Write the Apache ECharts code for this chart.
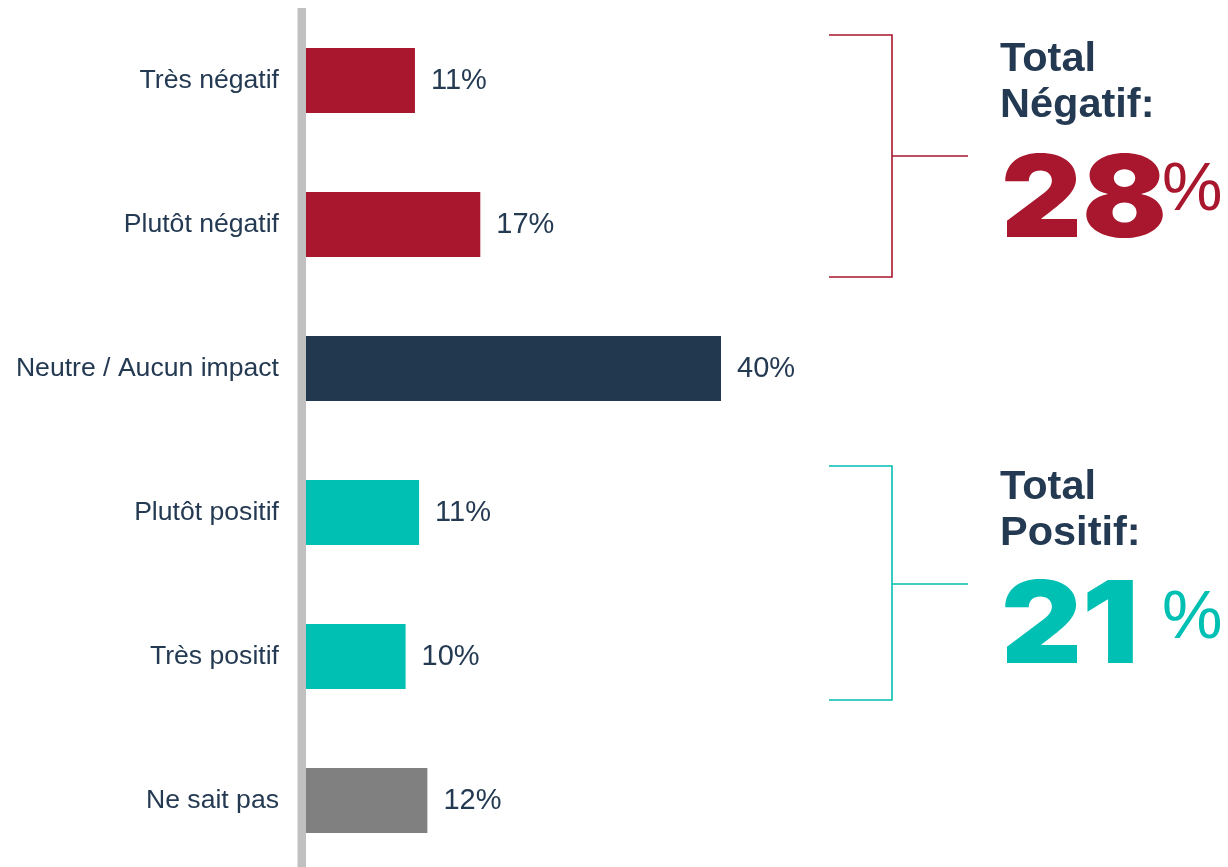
<!DOCTYPE html>
<html>
<head>
<meta charset="utf-8">
<script src="https://cdn.jsdelivr.net/npm/echarts@6/dist/echarts.min.js"></script>
<style>
html,body{margin:0;padding:0;background:#fff;}
#chart{width:1228px;height:867px;}
</style>
</head>
<body>
<div id="chart"></div>
<script>
// ---- data ----
const categories = ['Très négatif', 'Plutôt négatif', 'Neutre / Aucun impact', 'Plutôt positif', 'Très positif', 'Ne sait pas'];
const values = [10.5, 16.8, 40, 10.9, 9.6, 11.7];
const shownPercents = [11, 17, 40, 11, 10, 12];
const totalNegatif = 28;
const totalPositif = 21;

const RED = '#a8172d', NAVY = '#22384e', TEAL = '#00bfb3', GREY = '#808080';
const barColors = [RED, RED, NAVY, TEAL, TEAL, GREY];
const TXT = '#243a52';

const chart = echarts.init(document.getElementById('chart'), null, {renderer: 'canvas'});

function bracket(color, yTop, yBottom, yMid) {
  return [
    {type: 'polyline', shape: {points: [[829, yTop], [892, yTop], [892, yBottom], [829, yBottom]]},
     style: {stroke: color, lineWidth: 1.6, fill: null}},
    {type: 'line', shape: {x1: 892, y1: yMid, x2: 968, y2: yMid}, style: {stroke: color, lineWidth: 1.6}}
  ];
}
function txt(text, x, y, font, fill, sx) {
  return {type: 'text', x: x, y: y, scaleX: sx || 1,
    style: {text: text, x: 0, y: 0, font: font, fill: fill, verticalAlign: 'middle', align: 'left'}};
}
const HEAVY = '900 114px Inter, Roboto, "Liberation Sans", sans-serif';
const BOLD = 'bold 41.5px "Liberation Sans", Arial, sans-serif';
const PCT = 'normal 68px "Liberation Sans", Arial, sans-serif';

const option = {
  animation: false,
  backgroundColor: '#fff',
  grid: {left: 306, top: 8.5, width: 415, height: 864, containLabel: false, outerBoundsMode: 'none'},
  xAxis: {type: 'value', min: 0, max: 40, show: false},
  yAxis: {
    type: 'category', data: categories, inverse: true,
    axisLine: {show: false},
    axisTick: {show: false},
    axisLabel: {margin: 27, color: TXT, fontSize: 26.6, fontFamily: '"Liberation Sans", Arial, sans-serif'},
    splitLine: {show: false}
  },
  series: [{
    type: 'bar',
    barWidth: 65,
    data: values.map((v, i) => ({value: v, itemStyle: {color: barColors[i]}})),
    label: {
      show: true, position: 'right', distance: 16,
      color: TXT, fontSize: 29, fontFamily: '"Liberation Sans", Arial, sans-serif',
      formatter: p => shownPercents[p.dataIndex] + '%'
    }
  }],
  graphic: [
    {type: 'rect', shape: {x: 297.5, y: 8, width: 8.5, height: 859}, style: {fill: '#c0c0c0'}, z: -1},
    ...bracket(RED, 35, 277, 156),
    ...bracket(TEAL, 466, 700, 584),
    txt('Total', 1000, 60, BOLD, TXT),
    txt('Négatif:', 1000, 106, BOLD, TXT),
    txt(String(totalNegatif), 1001, 203, HEAVY, RED, 1.1),
    txt('%', 1162, 191, PCT, RED),
    txt('Total', 1000, 488, BOLD, TXT),
    txt('Positif:', 1000, 534, BOLD, TXT),
    txt(String(totalPositif), 1001, 629, HEAVY, TEAL, 1.1),
    txt('%', 1162, 619, PCT, TEAL)
  ]
};
chart.setOption(option);
</script>
</body>
</html>
